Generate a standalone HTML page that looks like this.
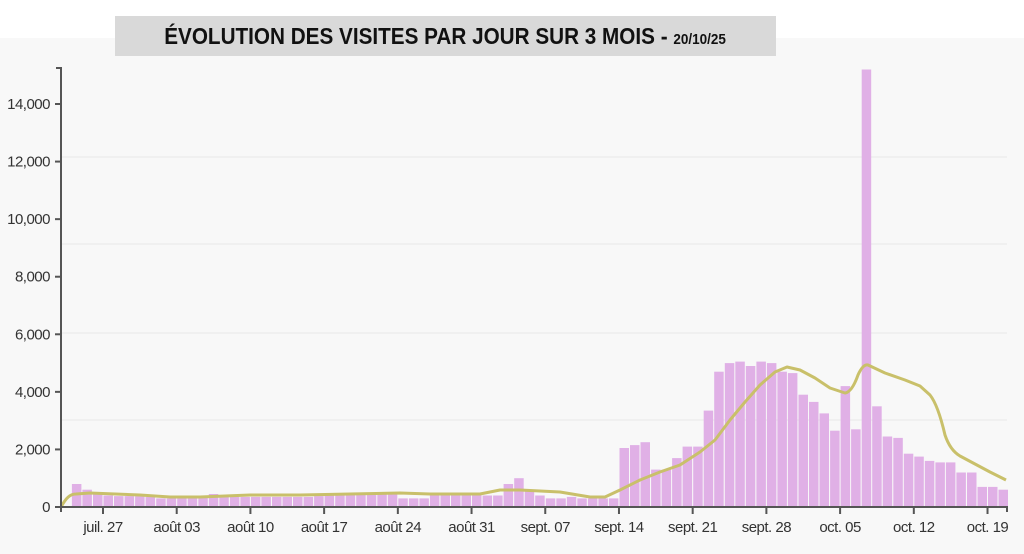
<!DOCTYPE html>
<html><head><meta charset="utf-8"><style>
html,body{margin:0;padding:0;width:1024px;height:554px;overflow:hidden;background:#fff;font-family:"Liberation Sans",sans-serif}
#bg{position:absolute;left:0;top:38px;width:1024px;height:516px;background:#f8f8f8}
#title{position:absolute;left:115px;top:16px;width:661px;height:40px;background:#d9d9d9;text-align:center;line-height:40px;font-weight:bold;font-size:21px;color:#111}
#title span.t{display:inline-block;transform:scaleX(0.9);transform-origin:center;white-space:nowrap;font-size:23px}
#title small{font-size:15px}
svg{position:absolute;left:0;top:0}
</style></head><body>
<div id="bg"></div>
<div id="title"><span class="t">ÉVOLUTION DES VISITES PAR JOUR SUR 3 MOIS - <small>20/10/25</small></span></div>
<svg id="s" width="1024" height="554" font-family="Liberation Sans, sans-serif"></svg>
<script>
var v=[800,600,450,400,380,380,380,350,300,300,300,300,350,450,350,350,350,350,350,350,350,350,350,350,350,350,350,350,350,380,400,400,420,450,450,500,450,300,300,300,400,450,450,450,450,400,400,800,1000,600,400,300,300,350,300,300,300,300,2050,2150,2250,1300,1300,1700,2100,2100,3350,4700,5000,5050,4900,5050,5000,4700,4650,3900,3650,3250,2650,4200,2700,15200,3500,2450,2400,1850,1750,1600,1550,1550,1200,1200,700,700,600];
var h='';
[157,244,333,420].forEach(function(y){h+='<line x1="62" x2="1007" y1="'+y+'" y2="'+y+'" stroke="#e8e8e8" stroke-width="1"/>';});
var dw=10.53,x0=103;
var start=-3,n=89;
while(v.length>n){v.splice(20,1);}
for(var i=0;i<n;i++){var d=start+i,x=x0+d*dw,val=v[i],y=507-val/34.74;if(y<67)y=67;
h+='<rect x="'+(x+0.5).toFixed(1)+'" y="'+y.toFixed(1)+'" width="'+(dw-1).toFixed(1)+'" height="'+(507-y).toFixed(1)+'" fill="#e0b0e6"/>';}
h+='<path d="M61,507 C66,498 70,494 76,494 L90,493 L140,495 L170,497 L200,497 L250,495 L300,495 L350,494 L400,493 L430,494 L480,494 L500,490 L520,490 L560,492 L590,497 L605,497 L620,490 L640,480 L660,472 L680,465 L700,452 L715,440 L730,420 L745,402 L760,385 L775,372 L787,367 L800,370 L815,378 L830,388 L845,393 Q852,392 858,375 Q863,364 868,365 L885,373 L905,380 L920,386 L930,395 Q938,405 945,435 Q950,450 960,456 L975,464 L990,472 L1006,480" fill="none" stroke="#c9c06a" stroke-width="3" stroke-linejoin="round"/>';
h+='<line x1="61" x2="61" y1="68" y2="512" stroke="#555" stroke-width="2"/><line x1="56" x2="62" y1="68" y2="68" stroke="#555" stroke-width="2"/>';
h+='<line x1="61" x2="1008" y1="507" y2="507" stroke="#555" stroke-width="2"/><line x1="1007" x2="1007" y1="507" y2="512" stroke="#555" stroke-width="2"/>';
var yl=['0','2,000','4,000','6,000','8,000','10,000','12,000','14,000'];
for(var k=0;k<8;k++){var y=507-k*57.57;h+='<line x1="55" x2="61" y1="'+y+'" y2="'+y+'" stroke="#555" stroke-width="2"/><text x="50" y="'+(y+5)+'" text-anchor="end" font-size="15" fill="#333" style="letter-spacing:-0.5px">'+yl[k]+'</text>';}
var xl=['juil. 27','août 03','août 10','août 17','août 24','août 31','sept. 07','sept. 14','sept. 21','sept. 28','oct. 05','oct. 12','oct. 19'];
for(var k=0;k<13;k++){var x=x0+k*7*dw;h+='<line x1="'+x+'" x2="'+x+'" y1="507" y2="514" stroke="#555" stroke-width="2"/><text x="'+x+'" y="532" text-anchor="middle" font-size="15" fill="#333" style="letter-spacing:-0.5px">'+xl[k]+'</text>';}
document.getElementById('s').innerHTML=h;
</script>
</body></html>
